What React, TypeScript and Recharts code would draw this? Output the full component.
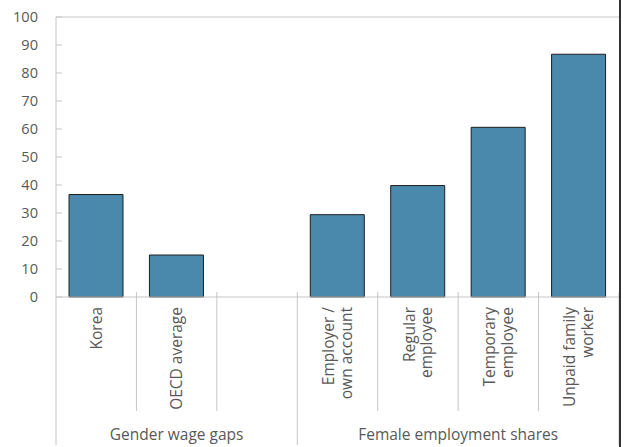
import { BarChart, Bar, XAxis, YAxis, ReferenceLine } from 'recharts'

const categories = [
  'Korea',
  'OECD average',
  '',
  'Employer /\nown account',
  'Regular\nemployee',
  'Temporary\nemployee',
  'Unpaid family\nworker',
]
const values = [36.6, 15, null, 29.4, 39.8, 60.6, 86.7]
const groupLabels = ['Gender wage gaps', 'Female employment shares']
const groupOf = [0, 0, 0, 1, 1, 1, 1]
const yTicks = [0, 10, 20, 30, 40, 50, 60, 70, 80, 90, 100]

const data = categories.map((name, i) => ({ name, value: values[i] }))

const W = 624
const H = 447
const MARGIN = { top: 17, right: 5, left: 8, bottom: 0 }
const Y_W = 48
const X_H = 150
const FONT = '"Open Sans", "Noto Sans", sans-serif'
const TEXT = '#595959'
const LINE = '#c6c6c6'

const YTick = (props: any) => {
  const { x, y, payload } = props
  return (
    <g>
      <line x1={x + 18} x2={x + 24} y1={y} y2={y} stroke={LINE} />
      <text x={x} y={y} dy="0.35em" textAnchor="end" fontSize={14.6} fill={TEXT} fontFamily={FONT}>
        {payload.value}
      </text>
    </g>
  )
}

const XTick = (props: any) => {
  const { x, y, payload, index } = props
  const slot = (W - MARGIN.left - Y_W - MARGIN.right) / categories.length
  const half = payload.offset || slot / 2
  const lines = String(payload.value).split('\n').filter((s) => s)
  const g = groupOf[index]
  const groupEnd = index === categories.length - 1 || groupOf[index + 1] !== g
  const groupStart = index === 0 || groupOf[index - 1] !== g
  const count = groupOf.filter((v) => v === g).length
  const lh = 17.7
  return (
    <g>
      {index === 0 && (
        <line x1={x - half} x2={x - half} y1={y} y2={y + 148} stroke={LINE} />
      )}
      <line
        x1={x + half}
        x2={x + half}
        y1={y - 5}
        y2={groupEnd ? y + 148 : y + 114}
        stroke={LINE}
      />
      <text
        transform={`translate(${x},${y + 10}) rotate(-90)`}
        textAnchor="end"
        fontSize={15.5}
        fill={TEXT}
        fontFamily={FONT}
      >
        {lines.map((l, i) => (
          <tspan key={i} x={0} y={(i - (lines.length - 1) / 2) * lh + 5.5}>
            {l}
          </tspan>
        ))}
      </text>
      {groupStart && (
        <text
          x={x - half + count * half}
          y={y + 143}
          textAnchor="middle"
          fontSize={15.5}
          fill={TEXT}
          fontFamily={FONT}
        >
          {groupLabels[g]}
        </text>
      )}
    </g>
  )
}

export default function App() {
  return (
    <div style={{ position: 'absolute', left: 0, top: 0, width: W, height: H, background: '#fff' }}>
      <BarChart width={W} height={H} data={data} margin={MARGIN} barSize={54}>
        <XAxis
          dataKey="name"
          interval={0}
          height={X_H}
          tickLine={false}
          tickSize={0}
          tickMargin={0}
          axisLine={{ stroke: LINE }}
          tick={<XTick />}
        />
        <YAxis
          yAxisId="left"
          domain={[0, 100]}
          ticks={yTicks}
          width={Y_W}
          tickLine={false}
          tickSize={0}
          tickMargin={18}
          axisLine={{ stroke: LINE }}
          tick={<YTick />}
        />
        <YAxis
          yAxisId="right"
          orientation="right"
          width={0}
          tick={false}
          tickLine={false}
          axisLine={{ stroke: LINE }}
        />
        <ReferenceLine yAxisId="left" y={100} stroke={LINE} />
        <Bar
          yAxisId="left"
          dataKey="value"
          fill="#4a89ac"
          stroke="#1e1e1e"
          strokeWidth={1}
          isAnimationActive={false}
        />
      </BarChart>
      <div style={{ position: 'absolute', left: 619, top: 0, width: 1.5, height: H, background: '#333' }} />
    </div>
  )
}
